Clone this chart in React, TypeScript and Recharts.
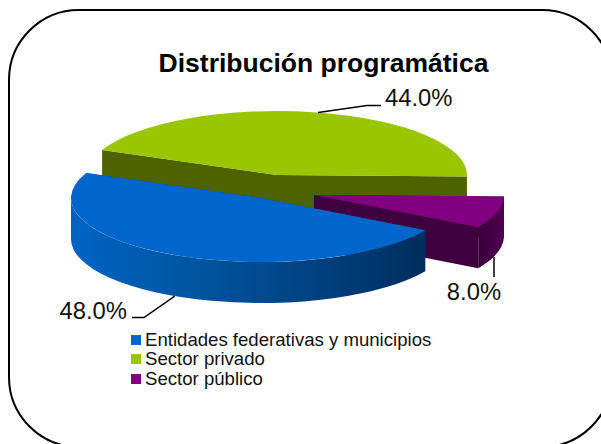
import React from "react";
import { PieChart, Pie, Legend } from "recharts";

const TITLE = "Distribución programática";

// Legend order
const categories = ["Entidades federativas y municipios", "Sector privado", "Sector público"];
const shares = [48.0, 44.0, 8.0];
// Back-to-front paint order
const paintOrder = [1, 2, 0];

const topColors = ["#0066CC", "#99C600", "#800080"];
const rimFills = ["url(#rimBlue)", "#4D6300", "url(#rimPurple)"];
const cutFills = ["#00468C", "#4D6300", "#3E003E"];
const explodeX = [-16, 0, 37];
const explodeY = [23, 0, 20];
// Label layout: leader polyline offsets are relative to the exploded rim point at the sector's label angle
const labelAngle = [117, 282.5, 24];
const labelText = [
  { ax: "end", tx: 127, ty: 318.5 },
  { ax: "start", tx: 385, ty: 106 },
  { ax: "middle", tx: 474, ty: 300 },
];

const SQUASH = 0.337;
const DEPTH = 41;
const W = 601;
const H = 444;
const CX = 277;
const CY = 175;
const R = 190;

const data = paintOrder.map((i) => ({ name: categories[i], value: shares[i], idx: i }));

function pt(cx: number, cy: number, rx: number, ry: number, a: number) {
  const t = (a * Math.PI) / 180;
  return [cx + rx * Math.cos(t), cy + ry * Math.sin(t)];
}

function Slice3D(props: any) {
  const { cx, cy, outerRadius, startAngle, endAngle, payload } = props;
  const idx = payload?.idx ?? props.idx;
  const ox = cx + explodeX[idx];
  const oy = cy + explodeY[idx];
  const rx = outerRadius;
  const ry = outerRadius * SQUASH;
  const a1 = -startAngle;
  const a2 = -endAngle;
  const [x1, y1] = pt(ox, oy, rx, ry, a1);
  const [x2, y2] = pt(ox, oy, rx, ry, a2);
  const large = a2 - a1 > 180 ? 1 : 0;
  const rims: React.ReactNode[] = [];
  [0, 360].forEach((base) => {
    const s = Math.max(a1, base);
    const e = Math.min(a2, base + 180);
    if (e > s) {
      const [sx, sy] = pt(ox, oy, rx, ry, s);
      const [ex, ey] = pt(ox, oy, rx, ry, e);
      rims.push(
        <path
          key={base}
          fill={rimFills[idx]}
          d={`M${sx},${sy}A${rx},${ry} 0 0 1 ${ex},${ey}L${ex},${ey + DEPTH}A${rx},${ry} 0 0 0 ${sx},${sy + DEPTH}Z`}
        />
      );
    }
  });
  const cut = (x: number, y: number) =>
    `M${ox},${oy}L${x},${y}L${x},${y + DEPTH}L${ox},${oy + DEPTH}Z`;
  return (
    <g>
      <path d={cut(x1, y1)} fill={cutFills[idx]} />
      <path d={cut(x2, y2)} fill={cutFills[idx]} />
      {rims}
      <path
        d={`M${ox},${oy}L${x1},${y1}A${rx},${ry} 0 ${large} 1 ${x2},${y2}Z`}
        fill={topColors[idx]}
      />
    </g>
  );
}

function SliceLabel(props: any) {
  const { cx, cy, outerRadius, payload, value } = props;
  const idx = payload?.idx ?? props.idx;
  const ox = cx + explodeX[idx];
  const oy = cy + explodeY[idx];
  const rx = outerRadius;
  const ry = outerRadius * SQUASH;
  const [px, py] = pt(ox, oy, rx, ry, labelAngle[idx]);
  const t = labelText[idx];
  let pts: number[][];
  if (idx === 0) pts = [[px, py + DEPTH], [144, 317.5], [132, 317.5]];
  else if (idx === 1) pts = [[px, py], [367, 105.5], [381, 105.5]];
  else pts = [[494, py + DEPTH - 5], [494, 277]];
  return (
    <g>
      <polyline
        points={pts.map((p) => p.join(",")).join(" ")}
        fill="none"
        stroke="#000"
        strokeWidth={1.5}
      />
      <text
        x={t.tx}
        y={t.ty}
        textAnchor={t.ax}
        fontFamily="'Liberation Sans', Arial, sans-serif"
        fontSize={23.8}
        fill="#111"
      >
        {Number(value).toFixed(1)}%
      </text>
    </g>
  );
}

function LegendBox() {
  return (
    <div style={{ fontFamily: "'Liberation Sans', Arial, sans-serif", fontSize: 18.6, color: "#111" }}>
      {categories.map((c, i) => (
        <div key={c} style={{ display: "flex", alignItems: "center", height: 19.6, whiteSpace: "nowrap" }}>
          <span style={{ width: 10, height: 10, background: topColors[i], marginRight: 4, flex: "none" }} />
          {c}
        </div>
      ))}
    </div>
  );
}

export default function App() {
  return (
    <div style={{ position: "absolute", left: 0, top: 0, width: W, height: H, overflow: "hidden", background: "#fff" }}>
      <PieChart width={W} height={H} margin={{ top: 0, right: 0, bottom: 0, left: 0 }}>
        <defs>
          <linearGradient id="rimBlue" x1="0" y1="0" x2="1" y2="0">
            <stop offset="0" stopColor="#0063C4" />
            <stop offset="0.35" stopColor="#00559F" />
            <stop offset="0.7" stopColor="#004080" />
            <stop offset="1" stopColor="#002E5C" />
          </linearGradient>
          <linearGradient id="rimPurple" x1="0" y1="0" x2="1" y2="0">
            <stop offset="0" stopColor="#3A003A" />
            <stop offset="1" stopColor="#500050" />
          </linearGradient>
        </defs>
        <rect x={9} y={10} width={603} height={437} rx={70} ry={70} fill="none" stroke="#000" strokeWidth={2} />
        <text
          x={323.5}
          y={72}
          textAnchor="middle"
          fontFamily="'Liberation Sans', Arial, sans-serif"
          fontWeight="bold"
          fontSize={26.5}
          fill="#000"
        >
          {TITLE}
        </text>
        <Pie
          data={data}
          dataKey="value"
          nameKey="name"
          cx={CX}
          cy={CY}
          innerRadius={0}
          outerRadius={R}
          startAngle={-203}
          endAngle={-563}
          paddingAngle={0}
          stroke="none"
          isAnimationActive={false}
          shape={Slice3D}
          inactiveShape={Slice3D}
          label={SliceLabel}
          labelLine={false}
        />
        <Legend
          content={<LegendBox />}
          layout="horizontal"
          verticalAlign="bottom"
          align="left"
          wrapperStyle={{ position: "absolute", left: 131, top: 330, bottom: "auto", width: 320 }}
        />
      </PieChart>
    </div>
  );
}
